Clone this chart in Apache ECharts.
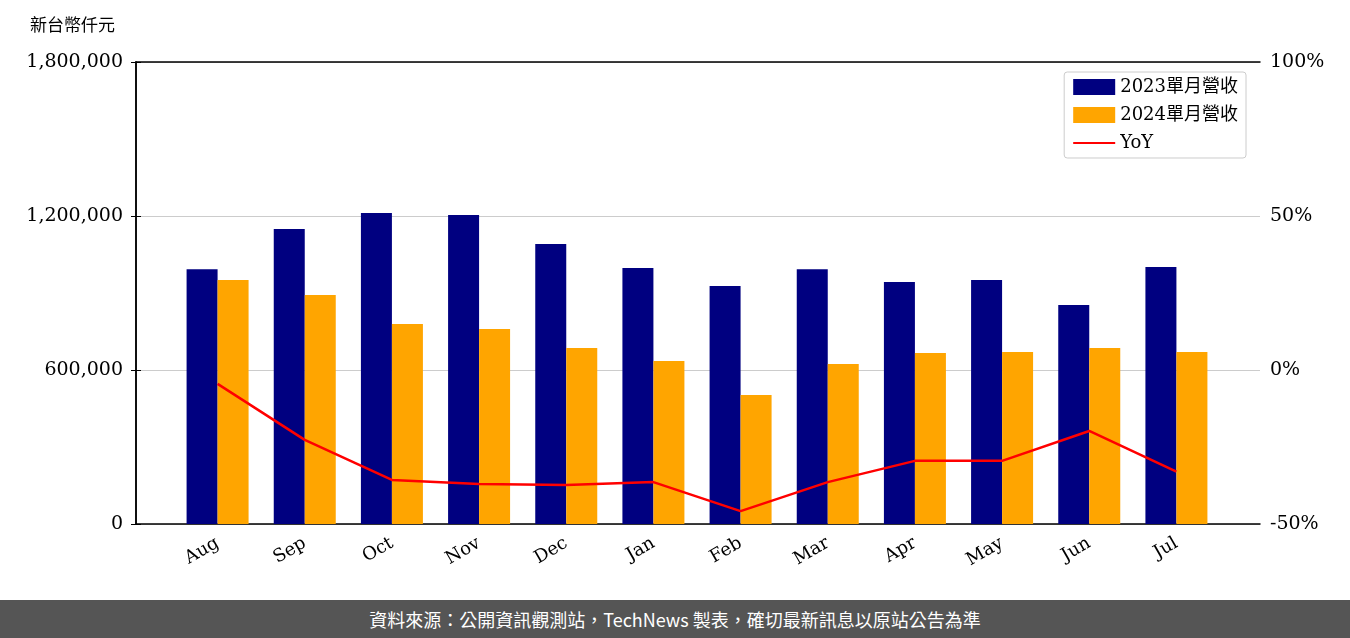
<!DOCTYPE html>
<html><head><meta charset="utf-8">
<script src="https://cdn.jsdelivr.net/npm/echarts@6/dist/echarts.min.js"></script>
<style>html,body{margin:0;padding:0;background:#fff}#main{width:1350px;height:600px}
#foot{width:1350px;height:38px;background:#555;color:#fff;font:18px "Noto Sans CJK TC",sans-serif;text-align:center;line-height:38px}</style>
</head><body><div id="main"></div><div id="foot">資料來源：公開資訊觀測站，TechNews 製表，確切最新訊息以原站公告為準</div>
<script>
var months = ['Aug','Sep','Oct','Nov','Dec','Jan','Feb','Mar','Apr','May','Jun','Jul'];
var rev2023 = [993000,1149000,1212000,1204000,1091000,997000,927000,993000,943000,951000,853000,1001000];
var rev2024 = [951000,892000,779000,760000,686000,635000,503000,623000,666000,670000,686000,670000];
var yoy = [-4.5,-22.7,-35.7,-37,-37.3,-36.4,-45.8,-36.4,-29.5,-29.5,-19.8,-33];

var font = '"DejaVu Serif", serif';
var black = {lineStyle: {color: '#000', width: 1.5}};
var chart = echarts.init(document.getElementById('main'));
chart.setOption({
  animation: false,
  textStyle: {fontFamily: font},
  grid: [
    {left: 136, right: 90, top: 62, bottom: 76},
    {left: 174, right: 130, top: 62, bottom: 76}
  ],
  graphic: [{type: 'text', left: 30, top: 16, style: {text: '新台幣仟元', font: '17px "Noto Sans CJK TC"', fill: '#000'}}],
  legend: {
    right: 104, top: 72, orient: 'vertical', itemGap: 10, itemWidth: 42, itemHeight: 16,
    borderColor: '#ccc', borderWidth: 1, borderRadius: 3, padding: [6, 8],
    textStyle: {fontSize: 18, fontFamily: font + ', "Noto Sans CJK TC"', color: '#000'},
    data: [{name: '2023單月營收', icon: 'rect'}, {name: '2024單月營收', icon: 'rect'},
      {name: 'YoY', itemStyle: {opacity: 0}}]
  },
  xAxis: [
    {gridIndex: 0, type: 'value', position: 'bottom', min: 0, max: 1, axisLine: {show: true, onZero: false, lineStyle: black.lineStyle},
      axisTick: {show: false}, axisLabel: {show: false}, splitLine: {show: false}},
    {gridIndex: 0, type: 'value', position: 'top', min: 0, max: 1, axisLine: {show: true, onZero: false, lineStyle: black.lineStyle},
      axisTick: {show: false}, axisLabel: {show: false}, splitLine: {show: false}},
    {gridIndex: 1, type: 'category', data: months,
      axisLine: {show: false},
      axisTick: {alignWithLabel: true, length: 5, lineStyle: {color: '#000'}},
      axisLabel: {rotate: 30, fontSize: 18, color: '#000', fontFamily: font, margin: 18}}
  ],
  yAxis: [{
    gridIndex: 0, type: 'value', min: 0, max: 1800000, interval: 600000,
    axisLine: {show: true, lineStyle: black.lineStyle},
    axisTick: {show: true, lineStyle: {color: '#000'}},
    splitLine: {lineStyle: {color: '#ccc'}},
    axisLabel: {fontSize: 19, color: '#000', fontFamily: font, margin: 13,
      formatter: function (v) { return v.toLocaleString('en-US'); }}
  }, {
    gridIndex: 0, type: 'value', min: -50, max: 100, interval: 50,
    axisLine: {show: true, lineStyle: black.lineStyle},
    axisTick: {show: true, lineStyle: {color: '#000'}},
    splitLine: {show: false},
    axisLabel: {fontSize: 19, color: '#000', fontFamily: font, margin: 10, formatter: '{value}%'}
  }, {
    gridIndex: 1, type: 'value', min: 0, max: 1800000, show: false
  }, {
    gridIndex: 1, type: 'value', min: -50, max: 100, show: false
  }],
  series: [
    {name: '2023單月營收', type: 'bar', xAxisIndex: 2, yAxisIndex: 2, data: rev2023, barWidth: 31, barGap: '0%', itemStyle: {color: '#000080'}},
    {name: '2024單月營收', type: 'bar', xAxisIndex: 2, yAxisIndex: 2, data: rev2024, barWidth: 31, itemStyle: {color: '#FFA500'}},
    {name: 'YoY', type: 'line', xAxisIndex: 2, yAxisIndex: 3, data: yoy, symbol: 'none', lineStyle: {color: 'red', width: 2.5}, itemStyle: {color: 'red'}}
  ]
});
</script></body></html>
